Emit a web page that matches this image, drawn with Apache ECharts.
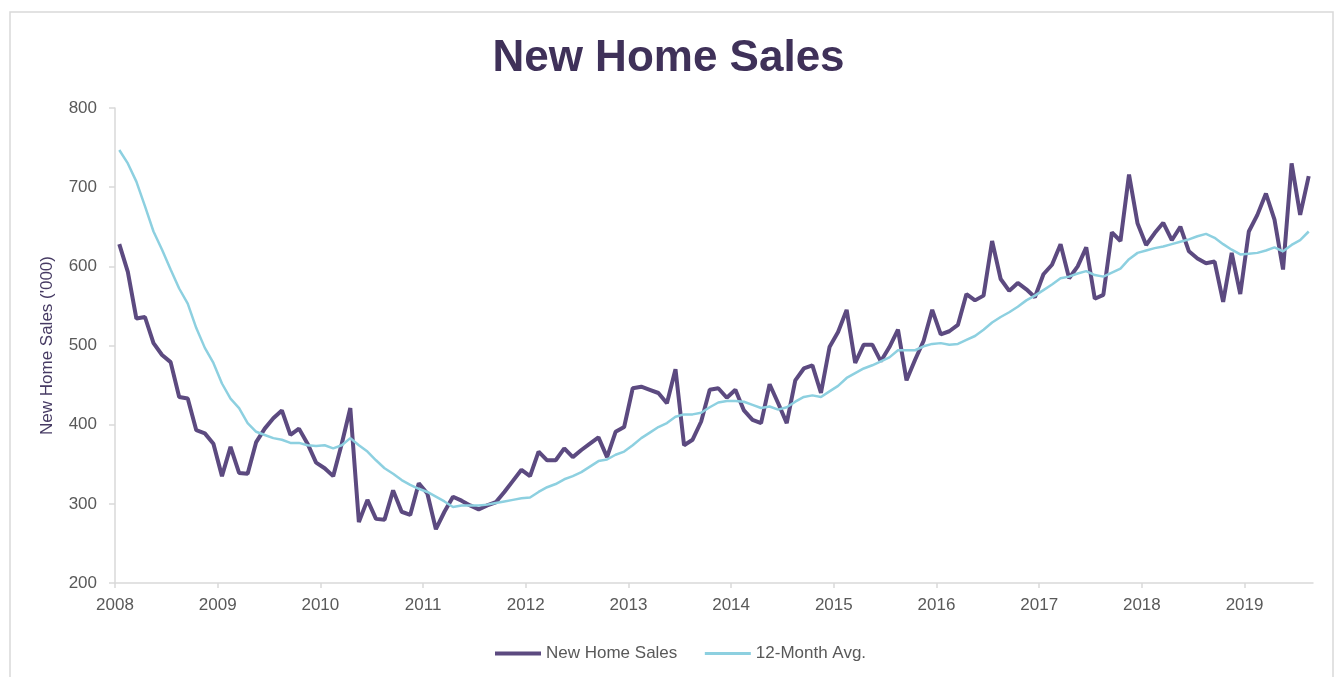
<!DOCTYPE html>
<html>
<head>
<meta charset="utf-8">
<title>New Home Sales</title>
<script src="https://cdn.jsdelivr.net/npm/echarts@6/dist/echarts.min.js"></script>
<style>
  html, body { margin: 0; padding: 0; background: #fff; }
  #chart { width: 1337px; height: 677px; }
</style>
</head>
<body>
<div id="chart"></div>
<script>
// monthly data, Jan 2008 - Aug 2019, thousands (SAAR)
const years = [2008, 2009, 2010, 2011, 2012, 2013, 2014, 2015, 2016, 2017, 2018, 2019];
const monthNames = ["Jan", "Feb", "Mar", "Apr", "May", "Jun", "Jul", "Aug", "Sep", "Oct", "Nov", "Dec"];
const monthsIn2019 = 8;

const homeSales = [
  628, 593, 534, 536, 503, 488, 479, 435, 433, 393, 389, 376,
  335, 372, 339, 338, 378, 395, 408, 418, 387, 395, 376, 352,
  345, 335, 376, 421, 277, 305, 281, 280, 317, 290, 286, 326,
  313, 268, 290, 309, 304, 298, 293, 298, 302, 315, 329, 343,
  335, 366, 355, 355, 370, 359, 368, 376, 384, 359, 391, 397,
  446, 448, 444, 440, 427, 470, 374, 381, 404, 444, 446, 434,
  444, 418, 406, 402, 451, 427, 402, 456, 471, 475, 440, 498,
  517, 545, 478, 501, 501, 480, 498, 520, 456, 482, 506, 545,
  514, 518, 526, 565, 557, 563, 632, 584, 569, 579, 571, 561,
  590, 602, 628, 585, 600, 624, 559, 564, 643, 632, 716, 654,
  627, 642, 655, 633, 650, 619, 610, 604, 606, 555, 617, 565,
  644, 665, 692, 659, 596, 730, 665, 714
];

const avg12 = [
  747, 730, 707, 676, 644, 621, 596, 572, 553, 522, 497, 478,
  452, 433, 421, 402, 391, 387, 383, 381, 377, 377, 374, 373,
  374, 370, 374, 383, 374, 366, 355, 345, 338, 330, 324, 319,
  315, 309, 303, 296, 298, 298, 298, 299, 301, 303, 305, 307,
  308, 315, 321, 325, 331, 335, 340, 347, 354, 356, 362, 366,
  374, 383, 390, 397, 402, 410, 413, 413, 415, 422, 428, 430,
  430, 429, 425, 421, 423, 419, 422, 429, 435, 437, 435, 442,
  449, 459, 465, 471, 475, 480, 485, 494, 494, 494, 499, 502,
  503, 501, 502, 507, 512, 520, 529, 536, 542, 549, 557, 563,
  570, 577, 585, 587, 591, 594, 589, 587, 592, 597, 609, 617,
  620, 623, 625, 628, 631, 634, 638, 641, 636, 628, 621, 615,
  616, 617, 620, 624, 619, 627, 633, 644
];

const months = [];
years.forEach(function (y) {
  monthNames.forEach(function (m, k) {
    if (y < 2019 || k < monthsIn2019) months.push(m + " " + y);
  });
});
const yearStarts = years.map(function (y, i) { return i * 12; });

const axisGrey = "#d9d9d9";
const textGrey = "#595959";
const font = "'Liberation Sans', Arial, sans-serif";

const chart = echarts.init(document.getElementById("chart"));
chart.setOption({
  backgroundColor: "#fff",
  animation: false,
  title: {
    text: "New Home Sales",
    left: "center",
    top: 32,
    textStyle: { color: "#3f3159", fontSize: 44, fontWeight: "bold", fontFamily: font }
  },
  graphic: [{
    type: "rect",
    shape: { x: 10, y: 12, width: 1323, height: 700 },
    style: { fill: "none", stroke: axisGrey, lineWidth: 1.5 },
    silent: true
  }],
  legend: {
    left: 488,
    top: 640,
    itemWidth: 46,
    itemHeight: 14,
    itemGap: 26,
    itemStyle: { opacity: 0 },
    data: [
      { name: "New Home Sales", lineStyle: { width: 4 } },
      { name: "12-Month Avg.", lineStyle: { width: 3 } }
    ],
    textStyle: { color: textGrey, fontSize: 17, fontFamily: font }
  },
  grid: { left: 115, right: 24, top: 108, bottom: 94 },
  xAxis: [
    {
      type: "category",
      data: months,
      boundaryGap: true,
      show: false
    },
    {
      type: "value",
      position: "bottom",
      min: 0,
      max: months.length,
      interval: 12,
      axisLine: { show: true, lineStyle: { color: axisGrey, width: 1.5 } },
      axisTick: { show: true, length: 5, lineStyle: { color: axisGrey, width: 1.5 }, customValues: yearStarts },
      axisLabel: {
        color: textGrey, fontSize: 17, fontFamily: font, margin: 14,
        customValues: yearStarts,
        formatter: function (v) { return v % 12 === 0 && v < months.length ? String(years[v / 12]) : ""; }
      },
      splitLine: { show: false }
    }
  ],
  yAxis: {
    type: "value",
    min: 200,
    max: 800,
    interval: 100,
    name: "New Home Sales ('000)",
    nameLocation: "middle",
    nameGap: 59,
    nameTextStyle: { color: "#463a63", fontSize: 17, fontFamily: font },
    axisLine: { show: true, lineStyle: { color: axisGrey, width: 1.5 } },
    axisTick: { show: true, length: 6, lineStyle: { color: axisGrey, width: 1.5 } },
    axisLabel: { color: textGrey, fontSize: 17, fontFamily: font, margin: 18 },
    splitLine: { show: false }
  },
  series: [
    {
      name: "New Home Sales",
      type: "line",
      xAxisIndex: 0,
      data: homeSales,
      symbol: "none",
      lineStyle: { color: "#5c4a80", width: 4 },
      itemStyle: { color: "#5c4a80" }
    },
    {
      name: "12-Month Avg.",
      type: "line",
      xAxisIndex: 0,
      data: avg12,
      symbol: "none",
      lineStyle: { color: "#8dd0e0", width: 2.5 },
      itemStyle: { color: "#8dd0e0" }
    }
  ]
});
</script>
</body>
</html>
